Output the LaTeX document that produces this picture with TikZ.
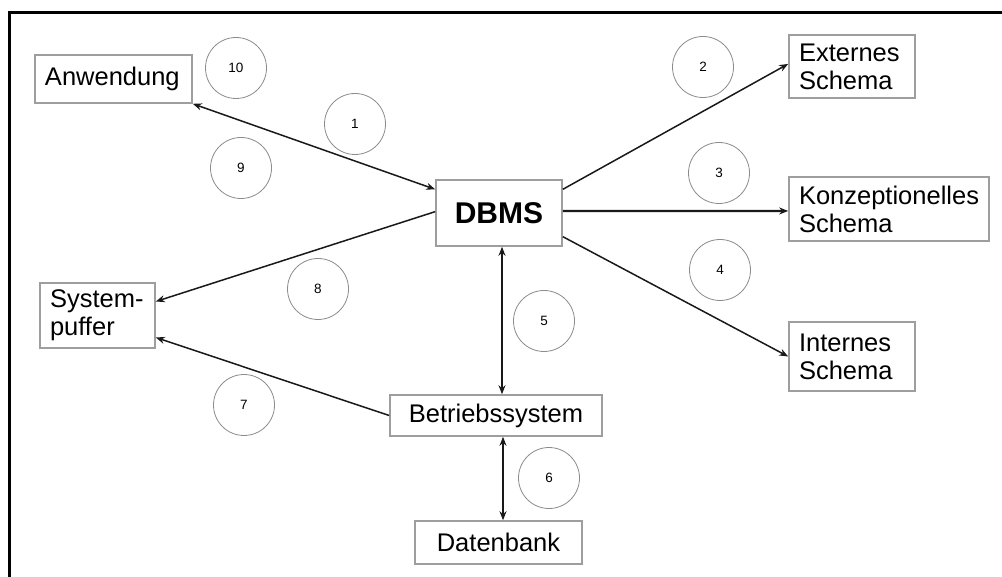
\documentclass[tikz,border=0pt]{standalone}
\usepackage{fontspec}
\setmainfont{Liberation Sans}
\usetikzlibrary{arrows.meta,calc}
\begin{document}
\begin{tikzpicture}[x=1pt,y=-1pt,
  box/.style={draw=black!38,line width=1.6pt,inner xsep=10pt,inner ysep=0pt,align=left,
    font=\fontsize{25.5}{28}\selectfont},
  cbox/.style={draw=black!38,line width=1.6pt,inner sep=0pt,align=center,
    font=\fontsize{25.5}{28}\selectfont},
  num/.style={draw=black!45,line width=0.8pt,circle,minimum size=61pt,inner sep=0pt,
    font=\fontsize{13.5}{13.5}\selectfont},
  conn/.style={draw=black!90,line width=1.5pt,line cap=butt},
  tip/.style={-{Stealth[length=9pt,width=7pt]}},
  tips/.style={{Stealth[length=9pt,width=7pt]}-{Stealth[length=9pt,width=7pt]}}
]
\useasboundingbox (0,0) rectangle (1002,577);
\draw[line width=3.2pt] (1002,12.5) -- (9.6,12.5) -- (9.6,577);

% boxes
\node[box,text width=137pt,minimum height=48pt] (anw) at (113.5,79) {Anwendung};
\node[box,text width=106pt,minimum height=63pt] (ext) at (852,66.5) {Externes\\Schema};
\node[box,text width=180pt,minimum height=64pt] (konz) at (889,209) {Konzeptionelles\\Schema};
\node[box,text width=106pt,minimum height=69pt] (int) at (852,356.5) {Internes\\Schema};
\node[box,text width=95pt,minimum height=65pt] (sys) at (97.5,315.5) {System-\\puffer};
\node[cbox,minimum width=126pt,minimum height=66pt,font=\fontsize{30}{30}\selectfont\bfseries] (dbms) at (499,213) {DBMS};
\node[cbox,minimum width=212pt,minimum height=41pt] (bs) at (496,415.5) {Betriebssystem};
\node[cbox,minimum width=167pt,minimum height=43pt] (db) at (498.5,542.5) {Datenbank};

% numbered circles
\node[num] (c1) at (355,124) {1};
\node[num] (c2) at (703,67) {2};
\node[num] (c3) at (719,173) {3};
\node[num] (c4) at (720,270) {4};
\node[num] (c5) at (544,321) {5};
\node[num] (c6) at (549,478) {6};
\node[num] (c7) at (244,405) {7};
\node[num] (c8) at (318,289) {8};
\node[num] (c9) at (241,168) {9};
\node[num] (c10) at (236,68) {10};

% connectors
\draw[conn,tips] (anw.south east) -- ($(dbms.north west)!0.15!(dbms.south west)$);
\draw[conn,tip] ($(dbms.north west)!0.48!(dbms.south west)$) -- ($(sys.north east)!0.29!(sys.south east)$);
\draw[conn,tip] (bs.west) -- ($(sys.north east)!0.83!(sys.south east)$);
\draw[conn,tips,line width=2.2pt] ([xshift=3pt]dbms.south) -- ([xshift=6pt]bs.north);
\draw[conn,tips,line width=2.2pt] ([xshift=7pt]bs.south) -- ([xshift=4.5pt]db.north);
\draw[conn,tip] ($(dbms.north east)!0.15!(dbms.south east)$) -- ($(ext.north west)!0.46!(ext.south west)$);
\draw[conn,tip,line width=2.2pt] ($(dbms.north east)!0.47!(dbms.south east)$) -- ($(konz.north west)!0.53!(konz.south west)$);
\draw[conn,tip] ($(dbms.north east)!0.85!(dbms.south east)$) -- (int.west);
\end{tikzpicture}
\end{document}
